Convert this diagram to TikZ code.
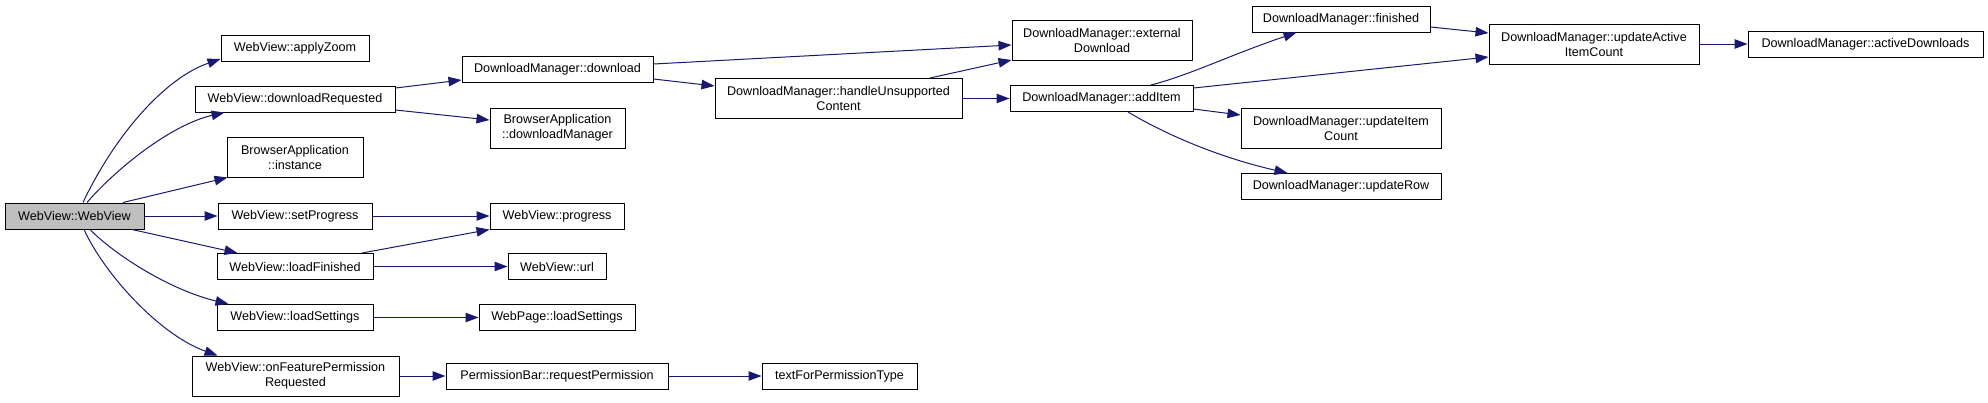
\documentclass[tikz,border=0pt]{standalone}
\usepackage{fontspec}
\setmainfont{Liberation Sans}
\usetikzlibrary{arrows.meta,calc}
\definecolor{midnight}{HTML}{191970}
\definecolor{rootfill}{HTML}{BFBFBF}
\tikzset{
  box/.style={draw=black, line width=1pt, fill=white, inner sep=0pt, align=center,
    font=\fontsize{12.6}{15}\selectfont},
  call/.style={draw=midnight, line width=1pt, -{Triangle[length=13pt,width=9.5pt]}, midnight}
}
\begin{document}
\begin{tikzpicture}[x=1pt,y=-1pt]
\useasboundingbox (0,0) rectangle (1988,402);
% column 1
\node[box, fill=rootfill, minimum width=139pt, minimum height=26pt] (ww) at (74.5,216) {WebView::WebView};
% column 2
\node[box, minimum width=148pt, minimum height=26pt] (az) at (295,48) {WebView::applyZoom};
\node[box, minimum width=200pt, minimum height=26pt] (dr) at (295,99) {WebView::downloadRequested};
\node[box, minimum width=136pt, minimum height=40pt] (bi) at (295,157) {BrowserApplication\\::instance};
\node[box, minimum width=154pt, minimum height=26pt] (sp) at (295,216) {WebView::setProgress};
\node[box, minimum width=156pt, minimum height=26pt] (lf) at (295,266.5) {WebView::loadFinished};
\node[box, minimum width=156pt, minimum height=26pt] (ls) at (295,317.5) {WebView::loadSettings};
\node[box, minimum width=207pt, minimum height=40pt] (of) at (295.5,376) {WebView::onFeaturePermission\\Requested};
% column 3
\node[box, minimum width=191pt, minimum height=26pt] (dl) at (557.5,69.5) {DownloadManager::download};
\node[box, minimum width=135pt, minimum height=40pt] (bdm) at (557.5,128) {BrowserApplication\\::downloadManager};
\node[box, minimum width=134pt, minimum height=26pt] (pr) at (557,216) {WebView::progress};
\node[box, minimum width=98pt, minimum height=26pt] (url) at (557,266.5) {WebView::url};
\node[box, minimum width=156pt, minimum height=26pt] (wpls) at (557,317.5) {WebPage::loadSettings};
\node[box, minimum width=222pt, minimum height=26pt] (rp) at (557,376) {PermissionBar::requestPermission};
% column 4
\node[box, minimum width=247pt, minimum height=40pt] (huc) at (838.5,98.5) {DownloadManager::handleUnsupported\\Content};
\node[box, minimum width=155pt, minimum height=26pt] (tfp) at (839.5,376) {textForPermissionType};
% column 5
\node[box, minimum width=180pt, minimum height=40pt] (ed) at (1102,40) {DownloadManager::external\\Download};
\node[box, minimum width=183pt, minimum height=26pt] (ai) at (1101.5,98.5) {DownloadManager::addItem};
% column 6
\node[box, minimum width=178pt, minimum height=26pt] (fin) at (1341,19) {DownloadManager::finished};
\node[box, minimum width=200pt, minimum height=40pt] (uic) at (1341,128) {DownloadManager::updateItem\\Count};
\node[box, minimum width=200pt, minimum height=26pt] (ur) at (1341,186.5) {DownloadManager::updateRow};
% column 7
\node[box, minimum width=210pt, minimum height=40pt] (uaic) at (1594,44) {DownloadManager::updateActive\\ItemCount};
% column 8
\node[box, minimum width=235pt, minimum height=26pt] (ad) at (1865.5,44) {DownloadManager::activeDownloads};

% edges from WebView::WebView
\draw[call] ($(ww.north)+(8.5,0)$) .. controls (115,135) and (165,78) .. ($(az.west)+(0,11)$);
\draw[call] ($(ww.north)+(12.5,0)$) .. controls (115,170) and (170,125) .. ($(dr.south west)+(30,0)$);
\draw[call] ($(ww.north)+(48.5,0)$) -- ($(bi.south west)+(1,0)$);
\draw[call] (ww.east) -- (sp.west);
\draw[call] ($(ww.south)+(57.5,0)$) -- ($(lf.north west)+(21,0)$);
\draw[call] ($(ww.south)+(15.5,0)$) .. controls (115,255) and (170,290) .. ($(ls.north west)+(12,0)$);
\draw[call] ($(ww.south)+(9.5,0)$) .. controls (105,275) and (160,335) .. ($(of.north west)+(26,0)$);
% column 2 -> 3
\draw[call] ($(dr.east)+(0,-11)$) -- ($(dl.west)+(0,10.5)$);
\draw[call] ($(dr.east)+(0,11)$) -- ($(bdm.west)+(0,-8)$);
\draw[call] (sp.east) -- (pr.west);
\draw[call] ($(lf.north)+(67,0)$) -- (pr.south west);
\draw[call] (lf.east) -- (url.west);
\draw[call] (ls.east) -- (wpls.west);
\draw[call] (of.east) -- (rp.west);
% column 3 -> 4/5
\draw[call] ($(dl.east)+(0,-5.5)$) -- ($(ed.west)+(0,5)$);
\draw[call] ($(dl.east)+(0,9.5)$) -- ($(huc.west)+(0,-12.5)$);
\draw[call] (rp.east) -- (tfp.west);
% column 4 -> 5
\draw[call] ($(huc.north)+(91.5,0)$) -- ($(ed.west)+(0,20)$);
\draw[call] (huc.east) -- (ai.west);
% column 5 -> 6/7
\draw[call] ($(ai.north)+(49.5,0)$) .. controls (1190,75) and (1230,55) .. ($(fin.south west)+(45,0)$);
\draw[call] ($(ai.east)+(0,-10.5)$) -- ($(uaic.west)+(0,13)$);
\draw[call] ($(ai.east)+(0,10.5)$) -- ($(uic.west)+(0,-13)$);
\draw[call] ($(ai.south)+(26.5,0)$) .. controls (1175,140) and (1230,160) .. ($(ur.north west)+(47,0)$);
% column 6 -> 7 -> 8
\draw[call] ($(fin.east)+(0,8)$) -- ($(uaic.west)+(0,-11)$);
\draw[call] (uaic.east) -- (ad.west);
\end{tikzpicture}
\end{document}
